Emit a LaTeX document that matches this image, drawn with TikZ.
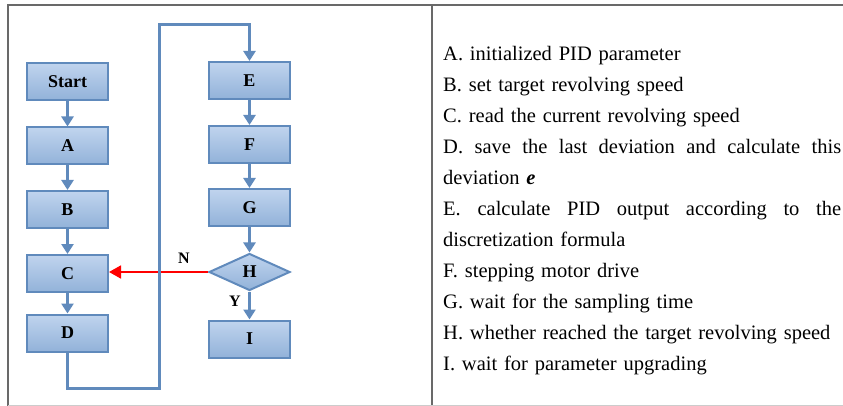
\documentclass[tikz,border=0pt]{standalone}
\usepackage{fontspec}
\setmainfont{Liberation Serif}
\usepackage{tikz}
\usetikzlibrary{shapes.geometric, arrows.meta}
\definecolor{boxline}{RGB}{96,138,188}
\definecolor{boxtop}{RGB}{192,212,238}
\definecolor{boxbot}{RGB}{146,178,217}
\definecolor{frameline}{RGB}{105,105,105}
\tikzstyle{process} = [rectangle, draw=boxline, line width=2pt, top color=boxtop, bottom color=boxbot, minimum width=81pt, minimum height=37pt, inner sep=0pt, font=\fontsize{18}{18}\selectfont\bfseries]
\tikzstyle{decision} = [diamond, aspect=2.2, draw=boxline, line width=2pt, top color=boxtop, bottom color=boxbot, minimum width=81pt, minimum height=37pt, inner sep=0pt, font=\fontsize{18}{18}\selectfont\bfseries]
\tikzstyle{arrow} = [line width=3pt, draw=boxline, -{Triangle[length=10pt,width=12pt]}]
\tikzstyle{noarrow} = [line width=1.8pt, draw=red, -{Triangle[length=12pt,width=13pt]}]
\tikzstyle{branch} = [font=\fontsize{16}{16}\selectfont\bfseries, inner sep=0pt]
\newcommand{\gap}{\hfill\ }

\begin{document}
\begin{tikzpicture}[line join=miter,x=1pt,y=-1pt]
    \useasboundingbox (0,0) rectangle (843,406);
    % table frame
    \draw [line width=1.5pt, frameline] (843,5) -- (8,5) -- (8,406);
    \draw [line width=1.5pt, frameline] (432,5) -- (432,406);
    \draw [line width=1pt, gray!40] (8,405) -- (843,405);
    % left column
    \node[process] (start) at (67.5,81.5) {Start};
    \node[process] (a) at (67.5,146) {A};
    \node[process] (b) at (67.5,209.5) {B};
    \node[process] (c) at (67.5,273.5) {C};
    \node[process] (d) at (67.5,333) {D};
    % right column
    \node[process] (e) at (249.5,80.5) {E};
    \node[process] (f) at (249.5,144.5) {F};
    \node[process] (g) at (249.5,207.5) {G};
    \node[decision] (h) at (249.5,272) {H};
    \node[process] (i) at (249.5,339) {I};
    \coordinate (loopbot) at (159,388);
    \coordinate (looptop) at (159,25);
    \draw [arrow] (start) -- (a);
    \draw [arrow] (a) -- (b);
    \draw [arrow] (b) -- (c);
    \draw [arrow] (c) -- (d);
    \draw [arrow] (e) -- (f);
    \draw [arrow] (f) -- (g);
    \draw [arrow] (g) -- (h);
    \draw [arrow] (h) -- (i);
    \draw [noarrow] (h.west) -- (c.east |- h.west);
    \draw [arrow] (d.south) -- (d.south |- loopbot) -- (loopbot) -- (looptop) -- (e.north |- looptop) -- (e.north);
    \node[branch] (nlabel) at (184,258) {N};
    \node[branch] (ylabel) at (235,301) {Y};
    % legend
    \node[anchor=north west, inner sep=0pt, text width=398pt, align=left, font=\fontsize{20.5}{31}\selectfont] (legend) at (443,40) {\rule{0pt}{20pt}A. initialized PID parameter\\
    B. set target revolving speed\\
    C. read the current revolving speed\\
    \makebox[398pt][l]{D.\gap save\gap the\gap last\gap deviation\gap and\gap calculate\gap this}\\
    deviation \textbf{\textit{e}}\\
    \makebox[398pt][l]{E.\gap calculate\gap PID\gap output\gap according\gap to\gap the}\\
    discretization formula\\
    F. stepping motor drive\\
    G. wait for the sampling time\\
    H. whether reached the target revolving speed\\
    I. wait for parameter upgrading};
\end{tikzpicture}
\end{document}
